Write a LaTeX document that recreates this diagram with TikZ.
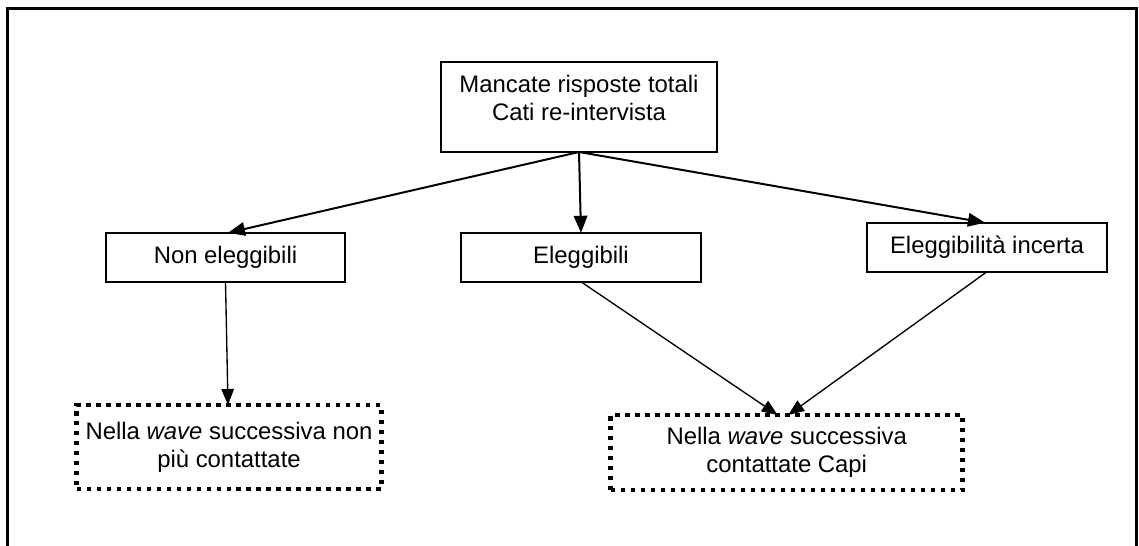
\documentclass[tikz,border=0pt]{standalone}
\usepackage{fontspec}
\setmainfont{Liberation Sans}
\usepackage{tikz}
\usetikzlibrary{arrows.meta}
\tikzset{
    flownode/.style = {
        align=center,
        text centered,
        font=\fontsize{13.6}{15.9}\selectfont,
        rectangle,
        draw=black,
        line width=0.04cm,
        inner sep=0pt,
        outer sep=0mm
    },
    levelnode/.style = {
        flownode,
        minimum width=4.8cm,
        minimum height=0.98cm
    },
    wavenode/.style = {
        flownode,
        line width=0.095cm,
        dash pattern=on 0.09cm off 0.11cm
    },
    thickarrow/.style = {
        -{Triangle[length=0.34cm,width=0.27cm]},
        line width=0.04cm
    },
    thinarrow/.style = {
        -{Triangle[length=0.32cm,width=0.25cm]},
        line width=0.027cm
    }
}

\begin{document}
\begin{tikzpicture}[x=0.02cm,y=-0.02cm]
    \useasboundingbox (0,0) rectangle (1139,545);
    \draw[line width=0.06cm] (7.5,548) -- (7.5,8.5) -- (1136.5,8.5) -- (1136.5,548);

    \node [flownode, minimum width=5.52cm, minimum height=1.8cm, text depth=0.38cm]
        (nrt) at (579,107) {Mancate risposte totali\\Cati re-intervista};

    \node [levelnode] (noneleg) at (225.5,257.3) {Non eleggibili};
    \node [levelnode] (eleg)    at (581,257.3)   {Eleggibili};
    \node [levelnode] (incerta) at (987,247.2)   {Eleggibilità incerta};

    \node [wavenode, minimum width=6.1cm, minimum height=1.68cm]
        (noncont) at (229,447) {Nella \textit{wave} successiva non\\più contattate};
    \node [wavenode, minimum width=7.04cm, minimum height=1.5cm]
        (capi) at (786.7,452.5) {Nella \textit{wave} successiva\\contattate Capi};

    \draw [thickarrow] (nrt.south) -- ([xshift=0.05cm]noneleg.north);
    \draw [thickarrow] (nrt.south) -- (eleg.north);
    \draw [thickarrow] (nrt.south) -- ([xshift=-0.04cm]incerta.north);

    \draw [thinarrow] (noneleg.south) -- ([xshift=-0.02cm]noncont.north);
    \draw [thinarrow] (eleg.south) -- ([xshift=-0.18cm]capi.north);
    \draw [thinarrow] (incerta.south) -- ([xshift=0.03cm]capi.north);
\end{tikzpicture}
\end{document}
